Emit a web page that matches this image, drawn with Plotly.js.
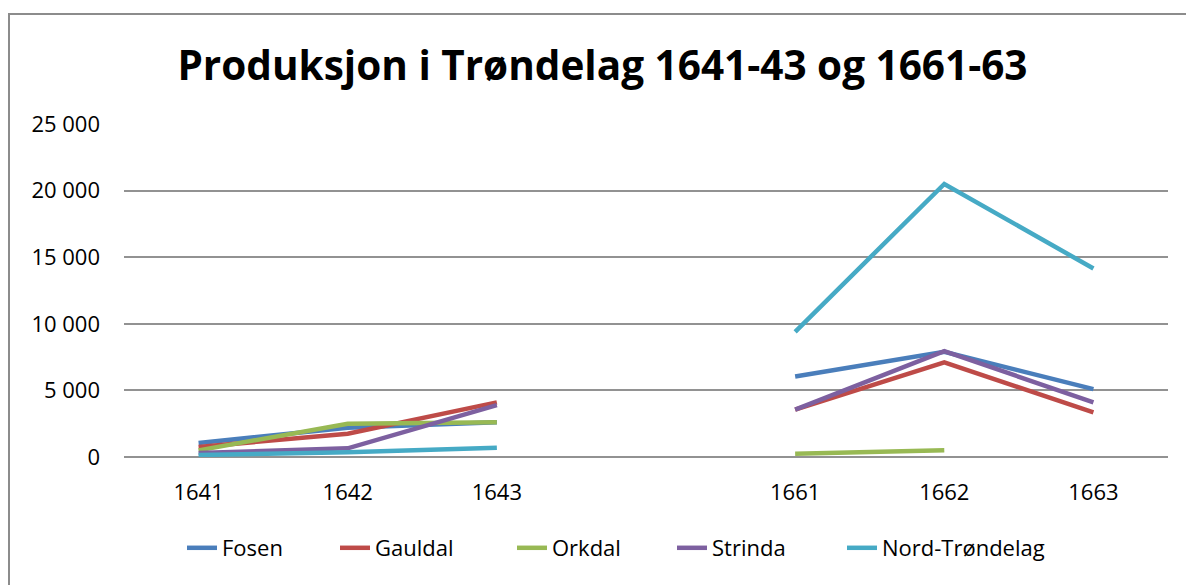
<!DOCTYPE html>
<html>
<head>
<meta charset="utf-8">
<script src="https://cdn.plot.ly/plotly-3.0.1.min.js"></script>
<style>
  html, body { margin: 0; padding: 0; background: #fff; }
  #wrap { position: relative; width: 1186px; height: 585px; overflow: hidden; }
  #frame { position: absolute; left: 8px; top: 13px; width: 1300px; height: 700px; border-left: 2px solid #8c8c8c; border-top: 2px solid #8c8c8c; pointer-events: none; z-index: 5; }
  #chart { position: absolute; left: 0; top: 0; width: 1186px; height: 585px; }
</style>
</head>
<body>
<div id="wrap">
  <div id="chart"></div>
  <div id="frame"></div>
</div>
<script>
const categories = ["1641", "1642", "1643", " ", "1661", "1662", "1663"];
const fosen        = [1050, 2200, 2600, null, 6050, 7900, 5100];
const gauldal      = [750, 1750, 4100, null, 3550, 7100, 3350];
const orkdal       = [500, 2500, 2600, null, 250, 500, null];
const strinda      = [300, 650, 3900, null, 3550, 7950, 4100];
const nordTrondelag = [150, 350, 700, null, 9400, 20500, 14150];

const seriesNames = ["Fosen", "Gauldal", "Orkdal", "Strinda", "Nord-Trøndelag"];
const seriesValues = [fosen, gauldal, orkdal, strinda, nordTrondelag];
const colors = ["#4A7EBB", "#BE4B48", "#98B954", "#7D60A0", "#46AAC5"];
const legendWidths = [108, 132, 115, 125, 180];

const traces = seriesNames.map((name, i) => ({
  type: "scatter",
  mode: "lines",
  name: name,
  x: categories,
  y: seriesValues[i],
  connectgaps: false,
  line: { color: colors[i], width: 4.5 },
  legendwidth: legendWidths[i],
  hoverinfo: "x+y+name"
}));

const tickFont = { family: "Open Sans, sans-serif", size: 22, color: "#000" };

const layout = {
  width: 1186,
  height: 585,
  margin: { l: 124, r: 18, t: 124, b: 128 },
  paper_bgcolor: "#ffffff",
  plot_bgcolor: "#ffffff",
  separators: ", ",
  showlegend: true,
  title: {
    text: "<b>Produksjon i Trøndelag 1641-43 og 1661-63</b>",
    font: { family: "Open Sans, sans-serif", size: 40.5, color: "#000000" },
    x: 0.508, xanchor: "center",
    y: 1 - 66 / 585, yanchor: "middle"
  },
  xaxis: {
    type: "category",
    categoryorder: "array",
    categoryarray: categories,
    range: [-0.5, 6.5],
    showgrid: false,
    zeroline: false,
    showline: false,
    ticks: "",
    ticklabelstandoff: 20,
    tickfont: tickFont,
    fixedrange: true
  },
  yaxis: {
    range: [0, 25000],
    tickvals: [0, 5000, 10000, 15000, 20000, 25000],
    tickformat: ",d",
    showgrid: true,
    gridcolor: "#929292",
    gridwidth: 1.8,
    zeroline: true,
    zerolinecolor: "#929292",
    zerolinewidth: 1.8,
    showline: false,
    ticks: "",
    ticklabelstandoff: 23,
    tickfont: tickFont,
    fixedrange: true
  },
  legend: {
    orientation: "h",
    x: (182 - 124) / 1044, xanchor: "left",
    y: -91 / 333, yanchor: "middle",
    font: { family: "Open Sans, sans-serif", size: 22, color: "#000" },
    entrywidthmode: "pixels",
    tracegroupgap: 0
  }
};

Plotly.newPlot("chart", traces, layout, { displayModeBar: false });
</script>
</body>
</html>
